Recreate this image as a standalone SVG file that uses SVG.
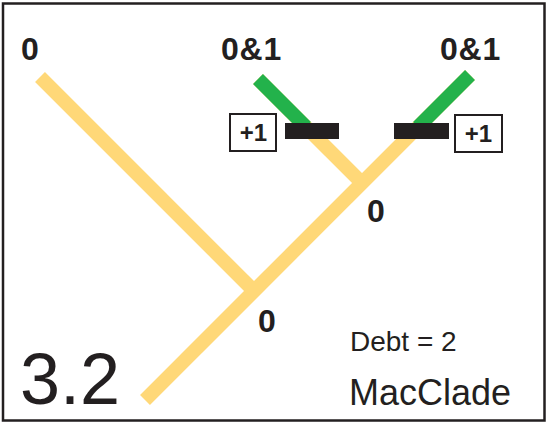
<svg xmlns="http://www.w3.org/2000/svg" width="548" height="424" viewBox="0 0 548 424">
<style>
.br{fill:none;stroke-width:14;stroke-linecap:butt}
.y{stroke:#FFD878}
.g{stroke:#23B24B}
.bar{fill:#231F20}
.box{fill:#fff;stroke:#231F20;stroke-width:2}
.lb{font-family:"Liberation Sans",Arial,sans-serif;font-weight:bold;fill:#231F20}
.rg{font-family:"Liberation Sans",Arial,sans-serif;fill:#231F20}
</style>
<rect x="3" y="3.5" width="541.5" height="417" fill="#fff" stroke="#231F20" stroke-width="2.5"/>
<g id="connectors">
<line class="br y" x1="40" y1="77" x2="255" y2="292"/>
<line class="br y" x1="145" y1="400" x2="470" y2="75"/>
<line class="br y" x1="258" y1="79" x2="364" y2="185"/>
<line class="br g" x1="418" y1="127" x2="470" y2="75"/>
<line class="br g" x1="258" y1="79" x2="306" y2="127"/>
</g>
<g id="leaf-left"><text class="lb" x="21" y="60" font-size="32">0</text></g>
<g id="leaf-mid"><text class="lb" x="221" y="60" font-size="32" letter-spacing="0.8">0&amp;1</text></g>
<g id="leaf-right"><text class="lb" x="440" y="60" font-size="32" letter-spacing="0.8">0&amp;1</text></g>
<g id="node-inner"><text class="lb" x="367" y="222" font-size="32">0</text></g>
<g id="node-root"><text class="lb" x="258" y="332" font-size="32">0</text></g>
<g id="change-left">
<rect class="bar" x="285" y="123" width="54" height="16"/>
<rect class="box" x="230" y="114" width="46" height="37"/>
<text class="lb" x="253.5" y="141" font-size="24" text-anchor="middle">+1</text>
</g>
<g id="change-right">
<rect class="bar" x="394" y="123" width="55" height="16"/>
<rect class="box" x="455" y="115" width="47" height="37"/>
<text class="lb" x="478.5" y="142" font-size="24" text-anchor="middle">+1</text>
</g>
<g id="label-num"><text class="rg" x="20" y="404" font-size="72">3.2</text></g>
<g id="label-debt"><text class="rg" x="350" y="351" font-size="28">Debt = 2</text></g>
<g id="label-mac"><text class="rg" x="349" y="405" font-size="36">MacClade</text></g>
</svg>
